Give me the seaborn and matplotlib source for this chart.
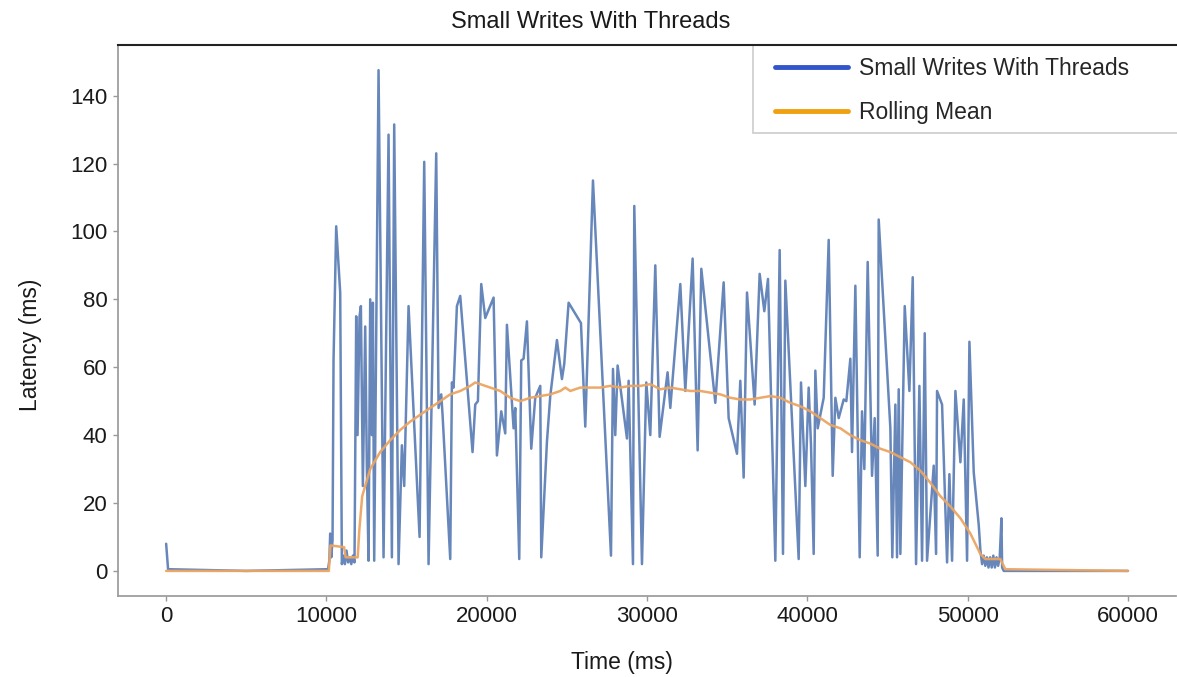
import matplotlib
matplotlib.use("Agg")
import matplotlib.pyplot as plt
from matplotlib.lines import Line2D
from matplotlib.patches import Rectangle
import pandas as pd
import seaborn as sns

# latency samples (time in ms, latency in ms)
time_ms = [0, 120, 5000, 10100, 10180, 10234, 10300, 10380, 10442, 10608, 10858, 10962,
           11050, 11150, 11250, 11350, 11450, 11550, 11650, 11750, 11856, 11940, 12065,
           12148, 12272, 12418, 12522, 12626, 12730, 12834, 12896, 12979, 13250, 13562,
           13874, 14082, 14227, 14498, 14706, 14851, 15122, 15809, 16099, 16370, 16848,
           16994, 17160, 17243, 17722, 17826, 17930, 18138, 18346, 19114, 19282, 19448,
           19656, 19906, 20426, 20634, 20904, 21154, 21258, 21674, 21778, 22027, 22152,
           22298, 22506, 22776, 23026, 23338, 23400, 23754, 23962, 24378, 24690, 24835,
           25106, 25877, 26146, 26626, 27750, 27874, 28018, 28163, 28746, 28850, 29122,
           29203, 29683, 29952, 30202, 30514, 30784, 31280, 31450, 32074, 32386, 32843,
           33155, 33384, 34258, 34778, 35090, 35610, 35818, 36026, 36235, 36712, 37024,
           37315, 37544, 38002, 38272, 38480, 38626, 39458, 39603, 39874, 40082, 40228,
           40394, 40498, 40645, 41019, 41331, 41580, 41746, 41955, 42267, 42432, 42682,
           42786, 42994, 43264, 43410, 43555, 43763, 44034, 44200, 44387, 44450, 45178,
           45300, 45490, 45594, 45698, 45802, 46074, 46365, 46573, 46781, 46989, 47155,
           47322, 47467, 47883, 48029, 48091, 48403, 48715, 48861, 49027, 49235, 49547,
           49755, 49963, 50109, 50379, 50691, 50795, 50900, 51000, 51100, 51200, 51300,
           51400, 51500, 51600, 51700, 51800, 51900, 52000, 52106, 52150, 52251, 60000]
latency_ms = [8, 0.5, 0, 0.5, 3, 11, 4, 9, 62, 101.5, 82, 2,
              4.5, 2, 6, 2.5, 4, 2, 4.5, 2.5, 75, 40, 75,
              78, 25, 72, 30, 3, 80, 40, 79, 3, 147.5, 4,
              128.5, 4, 131.5, 2, 37, 25, 78, 10, 120.5, 2, 123,
              48, 52, 46, 3.5, 55.5, 54, 78, 81, 35, 49, 50,
              84.5, 74.5, 80.5, 34, 47, 40.5, 72.5, 42, 48, 3.5, 62,
              62.5, 73.5, 36, 51, 54.5, 4, 38, 51.5, 68, 56.5, 61,
              79, 73, 42.5, 115, 4.5, 59.5, 40, 60.5, 39, 56, 2,
              107.5, 2, 55.5, 40, 90, 39.5, 58.5, 48, 84.5, 53, 92,
              35.5, 89, 49.5, 85, 45, 34.5, 56, 27.5, 82, 49, 87.5,
              76.5, 86, 3, 94.5, 5, 85.5, 3.5, 55.5, 25, 54, 37,
              5, 59, 42, 51, 97.5, 28, 51, 45, 50.5, 50, 62.5,
              35, 84, 4, 47, 30, 91, 28, 45, 4.5, 103.5, 42,
              4, 49, 4, 53.5, 5, 78, 53, 86.5, 2, 54.5, 3,
              70, 3, 31, 5, 53, 49, 2.5, 28.5, 3, 53, 32,
              50.5, 3, 67.5, 29, 13.5, 6, 2, 4.5, 1.5, 4, 1,
              4, 1, 4.5, 1, 4, 1.5, 4, 15.5, 1, 0, 0]

# rolling mean curve
roll_time_ms = [0, 10150, 10250, 11100, 11200, 11950, 12050, 12230, 12730, 13350, 13980,
                14600, 15230, 15850, 16470, 17100, 17720, 18350, 18970, 19280, 19600,
                20220, 20840, 21470, 22090, 22710, 23340, 23960, 24590, 24900, 25210,
                25830, 26460, 27080, 27710, 28330, 28950, 29580, 30200, 30830, 31450,
                32070, 32700, 33320, 33950, 34570, 35190, 35820, 36440, 37070, 37690,
                38310, 38940, 39560, 40190, 40810, 41430, 42060, 42680, 43310, 43930,
                44550, 45180, 45800, 46430, 47050, 47670, 48300, 48920, 49550, 50170,
                50480, 50790, 51100, 52040, 52350, 60000]
roll_mean_ms = [0, 0, 7.5, 7, 4, 4, 12, 22, 30, 35, 38.5,
                41.5, 44, 46, 48, 50, 52, 53, 54.5, 55.5, 55,
                54, 53, 51, 50, 51, 51.5, 52, 53, 54, 53,
                54, 54, 54, 54.5, 54, 54.5, 54.5, 55, 53.5, 54,
                53.5, 53, 53, 52.5, 52, 51, 50.5, 50.5, 51, 51.5,
                51, 49.5, 48.5, 47, 45, 43, 42, 40, 38.5, 37.5,
                36, 35, 33.5, 32, 29.5, 26, 22, 19, 15.5, 11,
                8, 5, 3.5, 3.5, 0.5, 0]

x_ticks = [0, 10000, 20000, 30000, 40000, 50000, 60000]
y_ticks = [0, 20, 40, 60, 80, 100, 120, 140]

sns.set_theme(style="white")
plt.rcParams["font.family"] = ["Liberation Sans", "DejaVu Sans"]

df_lat = pd.DataFrame({"time": time_ms, "latency": latency_ms})
df_roll = pd.DataFrame({"time": roll_time_ms, "latency": roll_mean_ms})

fig = plt.figure(figsize=(11.77, 6.77), dpi=100)
ax = fig.add_axes([0.1003, 0.1196, 0.8989, 0.8139])

sns.lineplot(data=df_lat, x="time", y="latency", ax=ax, color="#4c72b0",
             lw=1.8, alpha=0.85)
sns.lineplot(data=df_roll, x="time", y="latency", ax=ax, color="#eba562",
             lw=1.8, alpha=0.95)

ax.set_xlim(-3000, 63000)
ax.set_ylim(-7.4, 154.9)
ax.set_xticks(x_ticks)
ax.set_yticks(y_ticks)
ax.tick_params(axis="both", labelsize=16, length=3.5, width=1, color="#999999",
               labelcolor="#1a1a1a", bottom=True, left=True)
ax.tick_params(axis="y", pad=4)
ax.tick_params(axis="x", pad=4)

for side in ["left", "bottom"]:
    ax.spines[side].set_color("#9a9a9a")
ax.spines["top"].set_color("#222222")
ax.spines["top"].set_linewidth(1.5)
ax.spines["right"].set_visible(False)

ax.set_xlabel("Time (ms)", fontsize=16.5, color="#1a1a1a")
ax.set_ylabel("Latency (ms)", fontsize=16.5, color="#1a1a1a")
ax.xaxis.set_label_coords(0.476, -0.1)
ax.yaxis.set_label_coords(-0.072, 0.4555)

fig.text(0.502, 0.967, "Small Writes With Threads", ha="center", va="center",
         fontsize=17, color="#1a1a1a")

# legend frame runs off the right edge of the picture
ax.add_patch(Rectangle((0.6002, 0.8403), 0.45, 0.1597, transform=ax.transAxes,
                       facecolor="white", edgecolor="#cccccc", lw=1.2,
                       clip_on=False, zorder=4))
handles = [Line2D([], [], color="#3355cc", lw=3.5),
           Line2D([], [], color="#f0a010", lw=3.5)]
leg = ax.legend(handles, ["Small Writes With Threads", "Rolling Mean"],
                loc="upper left", bbox_to_anchor=(0.621, 0.979),
                borderaxespad=0, borderpad=0, fontsize=16.5, frameon=False,
                handlelength=3.2, handletextpad=0.45, labelspacing=0.95)
leg.set_zorder(5)
ax.spines["top"].set_zorder(6)

fig.savefig("out.png", dpi=100)
